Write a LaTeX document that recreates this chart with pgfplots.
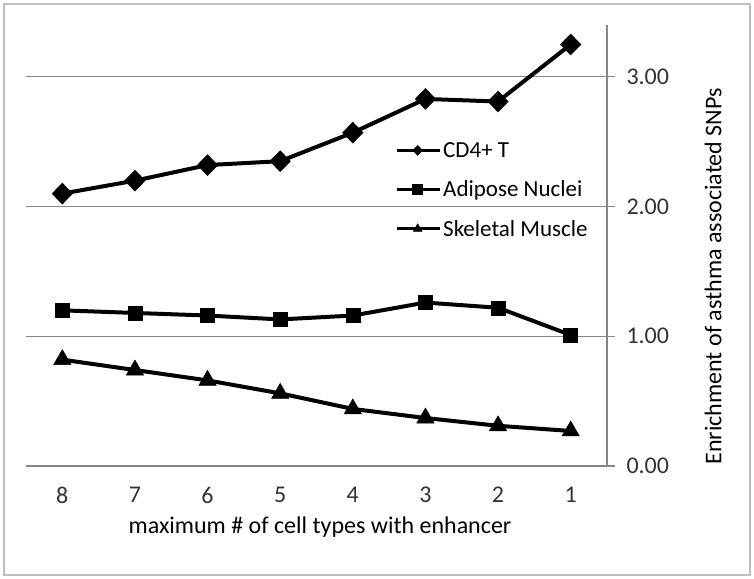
\documentclass[border=0pt]{standalone}
\usepackage{pgfplots}
\pgfplotsset{compat=1.18}
\usepackage{fontspec}
\setmainfont{Carlito}
\definecolor{axgray}{RGB}{134,134,134}
\definecolor{framegray}{RGB}{190,190,190}

\begin{document}
\begin{tikzpicture}[x=1bp,y=1bp]
\useasboundingbox (-26bp,-113bp) rectangle (728bp,466bp);
\draw[framegray, line width=1.2bp] (-22bp,-109bp) rectangle (724bp,462bp);
\begin{axis}[
    at={(0,0)}, anchor=south west,
    scale only axis,
    width=581bp, height=441bp,
    xmin=0.5, xmax=8.5,
    ymin=0, ymax=3.4,
    axis y line*=right,
    axis x line*=bottom,
    axis line style={axgray, line width=1.2bp, -},
    xtick={1,...,8},
    xticklabels={8,7,6,5,4,3,2,1},
    minor xtick={0.5,1.5,...,8.5},
    x tick style={draw=none},
    minor x tick style={axgray, line width=1.2bp},
    minor tick length=8bp,
    tick align=outside,
    ytick={0,1,2,3},
    y tick style={axgray, line width=1.2bp},
    major tick length=8bp,
    ymajorgrids,
    grid style={axgray, line width=1.2bp},
    yticklabel style={/pgf/number format/.cd, fixed, fixed zerofill, precision=2, /tikz/.cd, anchor=west, xshift=8bp},
    /pgf/number format/assume math mode=true,
    ticklabel style={font=\fontsize{24bp}{28bp}\selectfont, text=black!80},
    xticklabel style={anchor=center, yshift=-21bp},
    xlabel={maximum \# of cell types with enhancer},
    ylabel={Enrichment of asthma associated SNPs},
    every axis x label/.style={at={(axis description cs:0.506,0)}, anchor=center,
        yshift=-61bp, font=\fontsize{24bp}{28bp}\selectfont},
    every axis y label/.style={at={([xshift=106bp]axis description cs:1,0.43)}, anchor=center,
        rotate=90, font=\fontsize{24bp}{28bp}\selectfont},
    every axis plot/.append style={black, line width=4bp, mark options={solid, line width=0.5bp}},
    legend style={draw=none, fill=none, font=\fontsize{23bp}{27bp}\selectfont,
        at={(369bp,326bp)}, anchor=north west, row sep=18bp, inner sep=0bp},
    legend cell align=left,
    legend image code/.code={
        \draw[#1, line width=3bp] (0bp,0bp) -- (43bp,0bp);
        \draw[#1, line width=0.5bp, mark size=5bp] plot coordinates {(21bp,0bp)};
    },
    clip=false,
]
\addplot[mark=diamond*, mark size=8bp, mark options={xscale=1.3}] coordinates {
    (1,2.10) (2,2.20) (3,2.32) (4,2.35) (5,2.57) (6,2.83) (7,2.81) (8,3.25)
};
\addlegendentry{CD4+ T}
\addplot[mark=square*, mark size=7bp] coordinates {
    (1,1.20) (2,1.18) (3,1.16) (4,1.13) (5,1.16) (6,1.26) (7,1.22) (8,1.01)
};
\addlegendentry{Adipose Nuclei}
\addplot[mark=triangle*, mark size=10bp] coordinates {
    (1,0.82) (2,0.74) (3,0.66) (4,0.56) (5,0.44) (6,0.37) (7,0.31) (8,0.27)
};
\addlegendentry{Skeletal Muscle}
\end{axis}
\end{tikzpicture}
\end{document}
